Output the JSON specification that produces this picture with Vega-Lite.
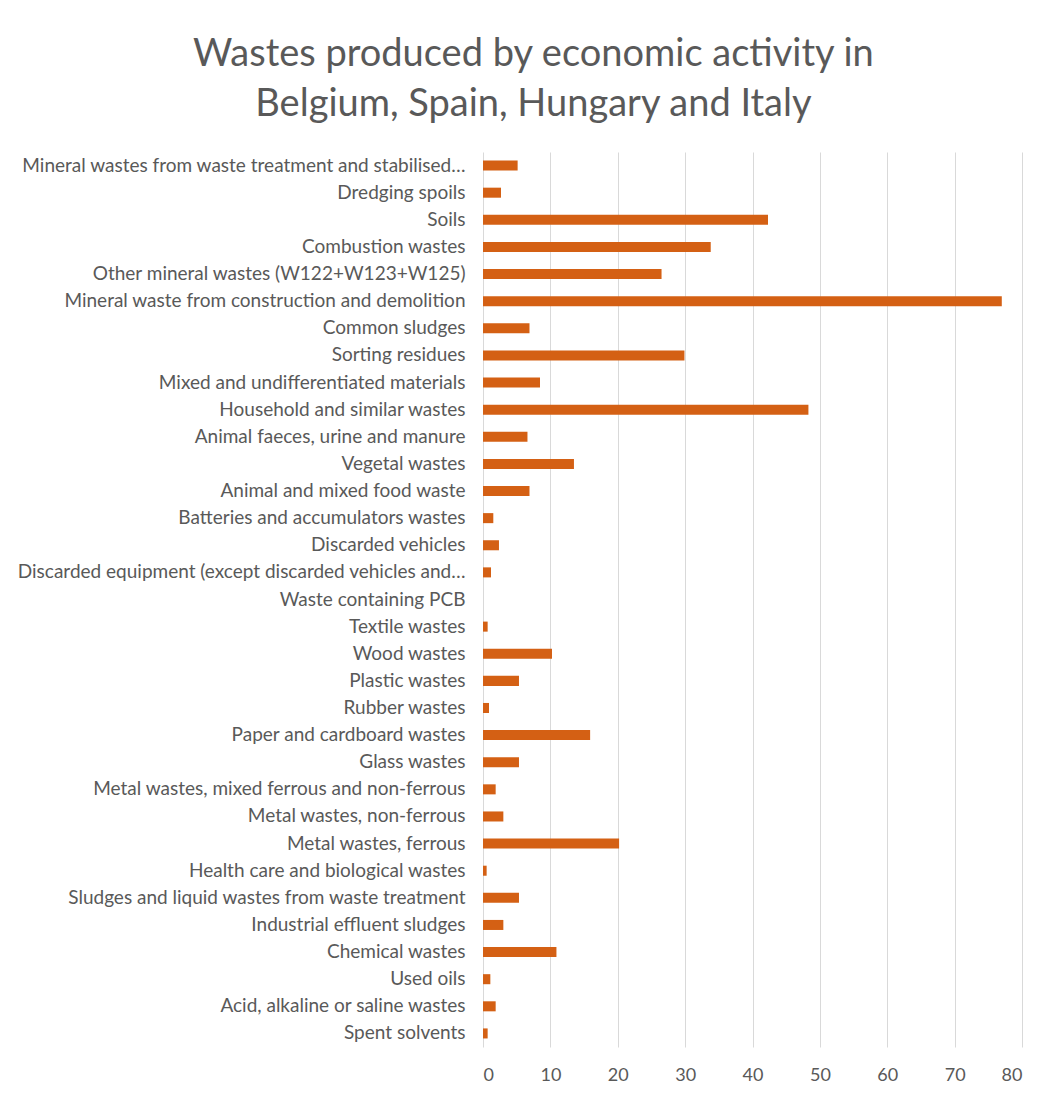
{
  "$schema": "https://vega.github.io/schema/vega-lite/v6.json",
  "width": 539,
  "height": 895,
  "autosize": "none",
  "padding": {"left": 483, "top": 152, "right": 27, "bottom": 48},
  "background": "white",
  "title": {
    "text": ["Wastes produced by economic activity in", "Belgium, Spain, Hungary and Italy"],
    "font": "Lato",
    "fontSize": 38,
    "fontWeight": "normal",
    "color": "#595959",
    "lineHeight": 50,
    "anchor": "middle",
    "frame": "bounds",
    "offset": 28,
    "dx": 14
  },
  "data": {
    "values": [
      {"category": "Mineral wastes from waste treatment and stabilised…", "value": 5.14},
      {"category": "Dredging spoils", "value": 2.67},
      {"category": "Soils", "value": 42.3},
      {"category": "Combustion wastes", "value": 33.8},
      {"category": "Other mineral wastes (W122+W123+W125)", "value": 26.5},
      {"category": "Mineral waste from construction and demolition", "value": 77.0},
      {"category": "Common sludges", "value": 6.9},
      {"category": "Sorting residues", "value": 29.9},
      {"category": "Mixed and undifferentiated materials", "value": 8.46},
      {"category": "Household and similar wastes", "value": 48.3},
      {"category": "Animal faeces, urine and manure", "value": 6.6},
      {"category": "Vegetal wastes", "value": 13.5},
      {"category": "Animal and mixed food waste", "value": 6.9},
      {"category": "Batteries and accumulators wastes", "value": 1.53},
      {"category": "Discarded vehicles", "value": 2.37},
      {"category": "Discarded equipment (except discarded vehicles and…", "value": 1.19},
      {"category": "Waste containing PCB", "value": 0},
      {"category": "Textile wastes", "value": 0.69},
      {"category": "Wood wastes", "value": 10.24},
      {"category": "Plastic wastes", "value": 5.34},
      {"category": "Rubber wastes", "value": 0.89},
      {"category": "Paper and cardboard wastes", "value": 15.9},
      {"category": "Glass wastes", "value": 5.34},
      {"category": "Metal wastes, mixed ferrous and non-ferrous", "value": 1.88},
      {"category": "Metal wastes, non-ferrous", "value": 3.02},
      {"category": "Metal wastes, ferrous", "value": 20.2},
      {"category": "Health care and biological wastes", "value": 0.54},
      {"category": "Sludges and liquid wastes from waste treatment", "value": 5.34},
      {"category": "Industrial effluent sludges", "value": 3.02},
      {"category": "Chemical wastes", "value": 10.9},
      {"category": "Used oils", "value": 1.09},
      {"category": "Acid, alkaline or saline wastes", "value": 1.88},
      {"category": "Spent solvents", "value": 0.69}
    ]
  },
  "mark": {"type": "bar", "color": "#D46014"},
  "encoding": {
    "y": {
      "field": "category",
      "type": "nominal",
      "sort": null,
      "scale": {"paddingInner": 0.63, "paddingOuter": 0.315},
      "axis": {
        "title": null,
        "ticks": false,
        "domain": false,
        "labelFont": "Lato",
        "labelFontSize": 19,
        "labelColor": "#595959",
        "labelPadding": 18,
        "labelLimit": 480
      }
    },
    "x": {
      "field": "value",
      "type": "quantitative",
      "scale": {"domain": [0, 80], "nice": false},
      "axis": {
        "title": null,
        "values": [0, 10, 20, 30, 40, 50, 60, 70, 80],
        "ticks": false,
        "domain": false,
        "grid": true,
        "gridColor": "#D9D9D9",
        "gridWidth": 1,
        "labelFont": "Lato",
        "labelFontSize": 18,
        "labelColor": "#595959",
        "labelPadding": 19
      }
    }
  },
  "config": {"view": {"stroke": null}}
}
